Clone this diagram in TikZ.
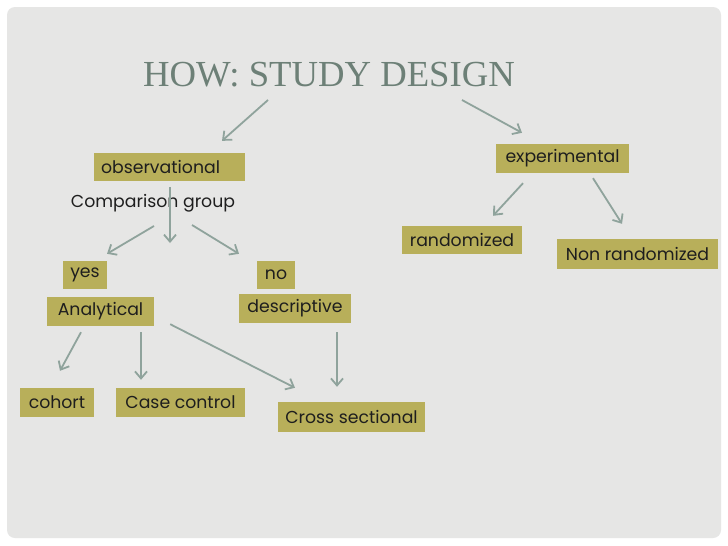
\documentclass[tikz,border=0pt]{standalone}
\usepackage{fontspec}
\setmainfont{Poppins}
\newfontfamily\titlefont{Liberation Serif}
\usetikzlibrary{arrows.meta,positioning}

\definecolor{olivebox}{HTML}{B8AF5A}
\definecolor{arrowgray}{HTML}{8FA39C}
\definecolor{titlegray}{HTML}{6D8077}
\definecolor{slidegray}{HTML}{E6E6E5}
\definecolor{boxtext}{HTML}{1E1E1E}

\begin{document}
\begin{tikzpicture}[
  x=1pt, y=-1pt,
  b/.style={fill=olivebox, text=boxtext, inner xsep=4pt, inner ysep=0pt, minimum height=28pt, font=\fontsize{17.3}{20}\selectfont},
  e/.style={-{Straight Barb[length=7pt, width=12pt]}, arrowgray, line width=1.8pt}
]
% slide background
\useasboundingbox (0,0) rectangle (728,546);
\fill[white] (0,0) rectangle (728,546);
\fill[slidegray, rounded corners=8pt] (7,7) rectangle (721,538);

\node[anchor=base west, inner sep=0pt, text=titlegray, font=\titlefont\fontsize{36.7}{40}\selectfont] (title) at (143,86) {HOW: STUDY DESIGN};

% observational branch
\node[b, text width=137pt, align=left, inner xsep=7pt] (obs) at (169.5,167) {observational};
\node[text=boxtext, inner sep=0pt, font=\fontsize{17.3}{20}\selectfont] (comp) at (153,203) {Comparison group};
\node[b, minimum width=44pt] (yes) at (85,275) {yes};
\node[b, minimum width=38pt] (no) at (276,275) {no};
\node[b, minimum width=107pt, minimum height=29pt] (analyt) at (100.5,311.5) {Analytical};
\node[b, minimum width=112pt, minimum height=29pt] (descr) at (295,308.5) {descriptive};
\node[b, minimum width=74pt, minimum height=29pt] (cohort) at (57,402.5) {cohort};
\node[b, minimum width=129pt, minimum height=29pt] (casectl) at (180.5,402.5) {Case control};
\node[b, minimum width=147pt, minimum height=30pt] (cross) at (351.5,417) {Cross sectional};

% experimental branch
\node[b, minimum width=133pt, minimum height=29pt] (exp) at (562.5,158.5) {experimental};
\node[b, minimum width=120pt] (rand) at (462,240) {randomized};
\node[b, minimum width=161pt, minimum height=30pt] (nonrand) at (637.5,254) {Non randomized};

\draw[e] ([shift={(125,14)}]title.base west) -- ([shift={(52.5,-12)}]obs.north);
\draw[e] ([shift={(319,14)}]title.base west) -- ([shift={(-40.5,-11)}]exp.north);
\draw[e] ([shift={(-39.5,10)}]exp.south) -- ([shift={(31,-10)}]rand.north);
\draw[e] ([shift={(30.5,5)}]exp.south) -- ([shift={(-15.5,-15)}]nonrand.north);
\draw[e] ([shift={(0.5,6)}]obs.south) -- ([shift={(17,40)}]comp.center);
\draw[e] ([shift={(1,23)}]comp.center) -- ([shift={(22,-7)}]yes.north);
\draw[e] ([shift={(39,22)}]comp.center) -- ([shift={(-37,-7)}]no.north);
\draw[e] ([shift={(-19.5,6)}]analyt.south) -- ([shift={(3,-17)}]cohort.north);
\draw[e] ([shift={(40.5,6)}]analyt.south) -- ([shift={(-39.5,-8)}]casectl.north);
\draw[e] ([shift={(16,-2)}]analyt.south east) -- ([shift={(-56.5,-14)}]cross.north);
\draw[e] ([shift={(42,9)}]descr.south) -- ([shift={(-14.5,-15)}]cross.north);
\end{tikzpicture}
\end{document}
